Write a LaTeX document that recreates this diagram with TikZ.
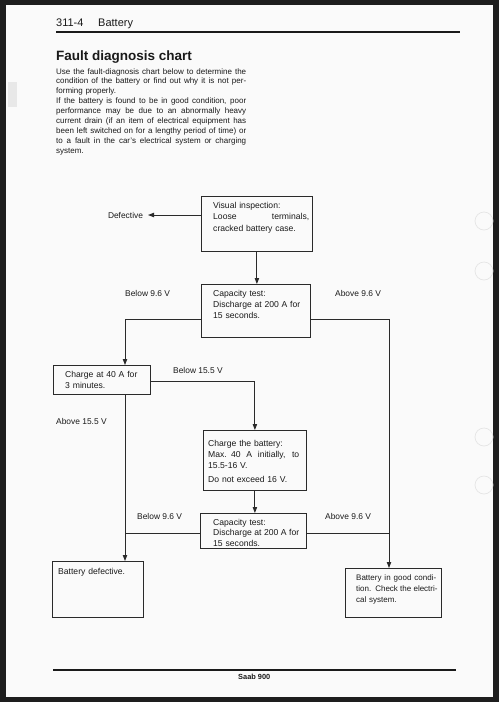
\documentclass[tikz,border=0pt]{standalone}
\usepackage{fontspec}
\setmainfont{Liberation Sans}
\usetikzlibrary{arrows.meta}
\definecolor{pagedark}{HTML}{1E1E1E}
\definecolor{paper}{HTML}{FAFAFA}
\definecolor{ink}{HTML}{1A1A1A}
\definecolor{lineink}{HTML}{2A2A2A}
\newcommand\jl[2]{\makebox[#1][s]{\spaceskip=.278em plus 1fil\relax #2}}
\begin{document}
\begin{tikzpicture}[x=1pt,y=-1pt,
  box/.style={draw=lineink, line width=0.8pt, rectangle, inner sep=0pt, anchor=north west},
  boxtxt/.style={anchor=base west, inner sep=0pt, align=left, text=ink, font=\fontsize{8.6}{11}\selectfont},
  lbl/.style={anchor=base west, inner sep=0pt, text=ink, font=\fontsize{8.4}{10}\selectfont},
  conn/.style={draw=lineink, line width=0.9pt},
  arr/.style={conn, -{Triangle[length=6pt,width=4.4pt]}},
]
\useasboundingbox (0,0) rectangle (499,702);
% page
\fill[pagedark] (0,0) rectangle (499,702);
\fill[paper] (6,5) rectangle (493,697);
\fill[black!9] (8,82) rectangle (17,107);
\foreach \yy in {221,271,437,485} \draw[black!10, line width=0.7pt] (484,\yy) circle (9);

% header
\node[anchor=base west, inner sep=0pt, text=ink, font=\fontsize{11}{13}\selectfont] (hnum) at (56,26) {311-4};
\node[anchor=base west, inner sep=0pt, text=ink, font=\fontsize{11}{13}\selectfont] (hname) at (98,26) {Battery};
\draw[ink, line width=1.1pt] (56,32) -- (460,32);

\node[anchor=base west, inner sep=0pt, text=ink, font=\bfseries\fontsize{13.5}{15}\selectfont] (title) at (56,60) {Fault diagnosis chart};

\node[anchor=base west, inner sep=0pt, text width=190pt, align=left, text=ink, font=\fontsize{8}{9.9}\selectfont] (para) at (56,74)
{\jl{190pt}{Use the fault-diagnosis chart below to determine the}\\
\jl{190pt}{condition of the battery or find out why it is not per-}\\
forming properly.\\
\jl{190pt}{If the battery is found to be in good condition, poor}\\
\jl{190pt}{performance may be due to an abnormally heavy}\\
\jl{190pt}{current drain (if an item of electrical equipment has}\\
\jl{190pt}{been left switched on for a lengthy period of time) or}\\
\jl{190pt}{to a fault in the car's electrical system or charging}\\
system.};

% boxes
\node[box, minimum width=111pt, minimum height=55pt] (b1) at (201,196) {};
\node[box, minimum width=109pt, minimum height=53pt] (b2) at (201,284) {};
\node[box, minimum width=97pt, minimum height=29pt] (b3) at (53,365) {};
\node[box, minimum width=103pt, minimum height=60pt] (b4) at (203,430) {};
\node[box, minimum width=106pt, minimum height=35pt] (b5) at (200,513) {};
\node[box, minimum width=91pt, minimum height=56pt] (b6) at (52,561) {};
\node[box, minimum width=96pt, minimum height=49pt] (b7) at (345,568) {};

% box texts
\node[boxtxt, text width=96pt, font=\fontsize{8.6}{11.8}\selectfont] (t1) at (213,208)
 {Visual inspection:\\ \jl{96pt}{Loose terminals,}\\ cracked battery case.};
\node[boxtxt, text width=87pt] (t2) at (213,296)
 {Capacity test:\\ \jl{87pt}{Discharge at 200 A for}\\ 15 seconds.};
\node[boxtxt, text width=80pt] (t3) at (65,377)
 {Charge at 40 A for\\ 3 minutes.};
\node[boxtxt, text width=91pt] (t4) at (208,446)
 {Charge the battery:\\ \jl{91pt}{Max. 40 A initially, to}\\ 15.5-16 V.\\[3pt] Do not exceed 16 V.};
\node[boxtxt, text width=86pt, font=\fontsize{8.6}{10.5}\selectfont] (t5) at (213,525)
 {Capacity test:\\ \jl{86pt}{Discharge at 200 A for}\\ 15 seconds.};
\node[boxtxt, text width=80pt] (t6) at (58,574) {Battery defective.};
\node[boxtxt, text width=80pt, font=\fontsize{8}{11}\selectfont] (t7) at (356,580)
 {\jl{80pt}{Battery in good condi-}\\ \jl{80pt}{tion. Check the electri-}\\ cal system.};

% labels
\node[lbl, outer xsep=5pt] (def) at (103,218) {Defective};
\node[lbl] (lb1) at (125,296) {Below 9.6 V};
\node[lbl] (la1) at (335,296) {Above 9.6 V};
\node[lbl] (lb2) at (173,373) {Below 15.5 V};
\node[lbl] (la2) at (56,424) {Above 15.5 V};
\node[lbl] (lb3) at (137,519) {Below 9.6 V};
\node[lbl] (la3) at (325,519) {Above 9.6 V};

% connectors
\coordinate (lx) at (125,0);
\coordinate (rx) at (389,0);
\coordinate (ya) at (0,319);
\coordinate (yb) at (0,381);
\coordinate (yc) at (0,533);
\draw[arr] (b1.west |- def.east) -- (def.east);
\draw[arr] (b1.south) -- (b1.south |- b2.north);
\draw[arr] (b2.west |- ya) -| (lx |- b3.north);
\draw[arr] (b2.east |- ya) -| (rx |- b7.north);
\draw[arr] (b3.east |- yb) -| (b4.north);
\draw[arr] (lx |- b3.south) -- (lx |- b6.north);
\draw[arr] (b4.south) -- (b4.south |- b5.north);
\draw[conn] (b5.west |- yc) -- (lx |- yc);
\draw[conn] (b5.east |- yc) -- (rx |- yc);

% footer
\draw[ink, line width=1.1pt] (53,670) -- (456,670);
\node[anchor=base west, inner sep=0pt, text=ink, font=\bfseries\fontsize{7.4}{9}\selectfont] (foot) at (238,679) {Saab 900};
\end{tikzpicture}
\end{document}
